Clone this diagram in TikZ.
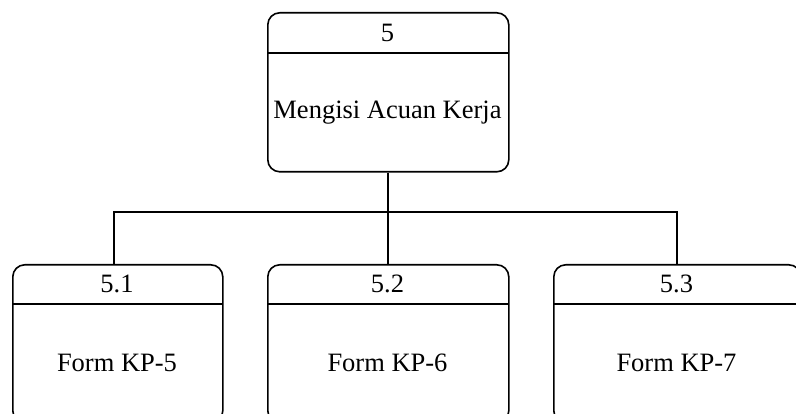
\documentclass[tikz,border=0pt]{standalone}
\usepackage{fontspec}
\setmainfont{Liberation Serif}
\begin{document}
\begin{tikzpicture}[x=1pt,y=-1pt,
  proc/.style={draw, line width=1.6pt, rounded corners=12pt, inner sep=0pt, anchor=north west},
  lbl/.style={font=\fontsize{26.5}{30}\selectfont, inner sep=0pt},
  link/.style={line width=1.6pt}]
\useasboundingbox (0,0) rectangle (796,414);

% parent process
\node[proc, minimum width=241pt, minimum height=159pt] (p5) at (267,12) {};
\draw[link] (267,53) -- (508,53);
\node[lbl] (p5id) at (387.5,33) {5};
\node[lbl] (p5name) at (387.5,113) {Mengisi Acuan Kerja};

% child processes
\node[proc, minimum width=210pt, minimum height=158pt] (p51) at (12,264) {};
\draw[link] (12,304) -- (222,304);
\node[lbl] (p51id) at (117,284) {5.1};
\node[lbl] (p51name) at (117,363) {Form KP-5};

\node[proc, minimum width=241pt, minimum height=158pt] (p52) at (267,264) {};
\draw[link] (267,304) -- (508,304);
\node[lbl] (p52id) at (387.5,284) {5.2};
\node[lbl] (p52name) at (387.5,363) {Form KP-6};

\node[proc, minimum width=247pt, minimum height=158pt] (p53) at (553,264) {};
\draw[link] (553,304) -- (800,304);
\node[lbl] (p53id) at (676.5,284) {5.3};
\node[lbl] (p53name) at (676.5,363) {Form KP-7};

% decomposition links
\coordinate (j1) at (114,212);
\coordinate (j2) at (388,212);
\coordinate (j3) at (677,212);
\draw[link] (p5.south -| j2) -- (p52.north -| j2);
\draw[link] (p51.north -| j1) -- (j1) -- (j3) -- (p53.north -| j3);
\end{tikzpicture}
\end{document}
